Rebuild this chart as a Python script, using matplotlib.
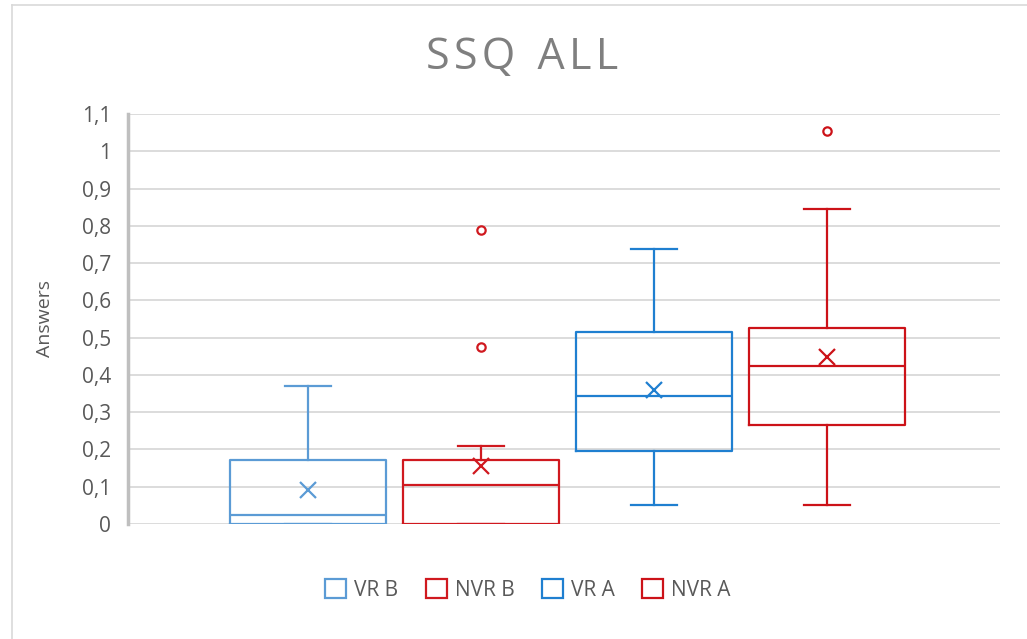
import matplotlib
matplotlib.use("Agg")
import matplotlib.pyplot as plt
from matplotlib.lines import Line2D
from matplotlib.patches import Patch

# values
groups = ["VR B", "NVR B", "VR A", "NVR A"]
colors = ["#5b9bd5", "#d0191f", "#1f7fd0", "#cc1218"]
whislo = [0.0, 0.0, 0.051, 0.051]
q1 = [0.0, 0.0, 0.196, 0.265]
med = [0.024, 0.105, 0.343, 0.423]
q3 = [0.172, 0.172, 0.516, 0.525]
whishi = [0.370, 0.209, 0.738, 0.844]
means = [0.091, 0.156, 0.360, 0.449]
fliers = [[], [0.475, 0.790], [], [1.055]]

yticks = [0, 0.1, 0.2, 0.3, 0.4, 0.5, 0.6, 0.7, 0.8, 0.9, 1.0, 1.1]
ytick_labels = ["0", "0,1", "0,2", "0,3", "0,4", "0,5", "0,6", "0,7", "0,8", "0,9", "1", "1,1"]

plt.rcParams['font.family'] = ['Open Sans', 'DejaVu Sans']
txt = "#595959"

fig = plt.figure(figsize=(10.27, 6.39), dpi=100)
ax = fig.add_axes([128 / 1027, 1 - 524 / 639, 872 / 1027, 410 / 639])

# chart border (top and left visible in reference)
fig.add_artist(Line2D([12 / 1027, 1.0], [1 - 5 / 639] * 2, color="#d9d9d9", lw=1.2))
fig.add_artist(Line2D([12 / 1027] * 2, [0, 1 - 5 / 639], color="#d9d9d9", lw=1.2))

stats = []
for i, g in enumerate(groups):
    stats.append(dict(label=g, whislo=whislo[i], q1=q1[i], med=med[i], q3=q3[i],
                      whishi=whishi[i], mean=means[i], fliers=fliers[i]))

positions = list(range(len(groups)))
for i, s in enumerate(stats):
    c = colors[i]
    ax.bxp([s], positions=[positions[i]], widths=0.9, capwidths=0.27,
           showmeans=True, meanline=False, showfliers=True,
           boxprops=dict(color=c, lw=1.6),
           medianprops=dict(color=c, lw=1.6),
           whiskerprops=dict(color=c, lw=1.6),
           capprops=dict(color=c, lw=1.6),
           meanprops=dict(marker="x", markeredgecolor=c, markersize=11, markeredgewidth=1.6),
           flierprops=dict(marker="o", markerfacecolor="none", markeredgecolor=c,
                           markersize=6, markeredgewidth=1.6),
           manage_ticks=False)

ax.set_xlim(-1.04, 4.0)
ax.set_ylim(0, 1.1)
ax.set_yticks(yticks)
ax.set_yticklabels(ytick_labels)
ax.set_xticks([])
ax.tick_params(axis="y", length=0, pad=12, labelsize=15, labelcolor=txt)
ax.grid(axis="y", color="#d9d9d9", lw=1.3)
ax.set_axisbelow(True)
for side in ["top", "right", "bottom"]:
    ax.spines[side].set_visible(False)
ax.spines["left"].set_color("#bfbfbf")
ax.spines["left"].set_linewidth(2.5)

ax.set_ylabel("Answers", fontsize=14, color=txt, labelpad=20)
hs = "\u200a"
title = hs.join("SSQ") + "  " + hs.join("ALL")
fig.text(0.508, 1 - 58 / 639, title, ha="center", va="center",
         fontsize=31, color="#7f7f7f")

handles = [Patch(facecolor="white", edgecolor=c, lw=1.6, label=g) for g, c in zip(groups, colors)]
fig.legend(handles=handles, loc="center", bbox_to_anchor=(0.514, 1 - 590 / 639), ncol=4,
           frameon=False, fontsize=15, labelcolor=txt, handlelength=1.0, handleheight=1.0,
           handletextpad=0.4, columnspacing=1.3)

fig.savefig("out.png", dpi=100)
